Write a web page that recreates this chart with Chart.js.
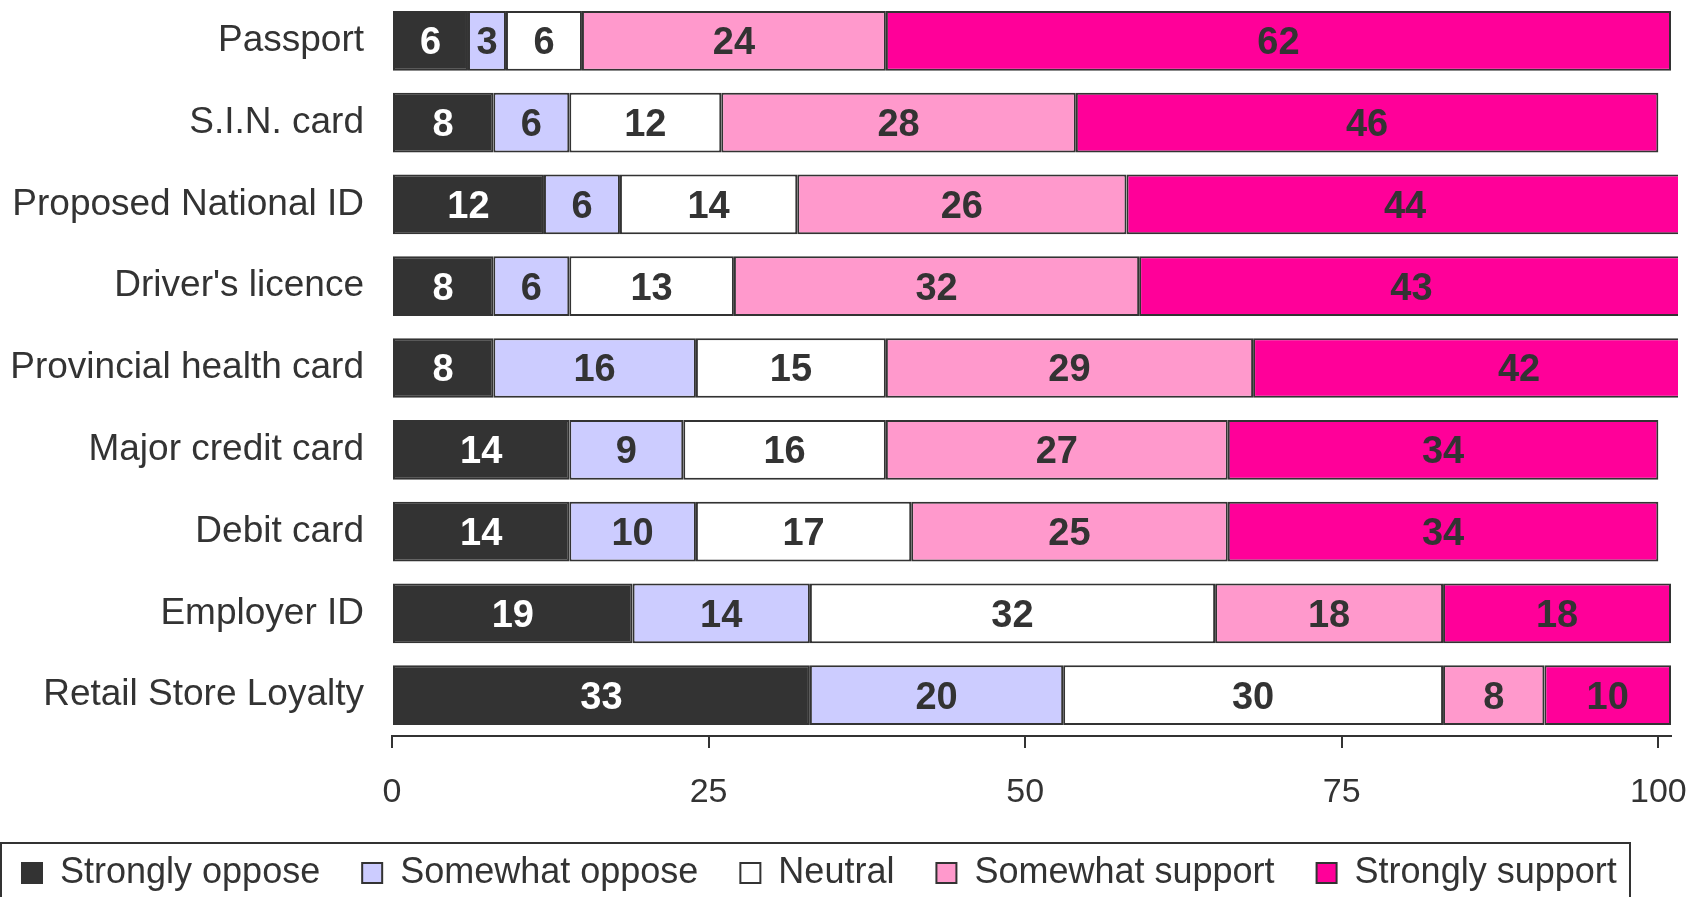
<!DOCTYPE html>
<html>
<head>
    <title>ID card support</title>
    <script src="https://cdn.jsdelivr.net/npm/chart.js"></script>
    <style>
        body {
            margin: 0;
            background: #ffffff;
            overflow: hidden;
        }
    </style>
</head>
<body>
    <canvas id="idChart" width="1701" height="897"></canvas>

    <script>
        // Card types, top to bottom
        const cards = ['Passport', 'S.I.N. card', 'Proposed National ID', "Driver's licence",
            'Provincial health card', 'Major credit card', 'Debit card', 'Employer ID', 'Retail Store Loyalty'];

        // Percent answering each way, one array per answer
        const stronglyOppose = [6, 8, 12, 8, 8, 14, 14, 19, 33];
        const somewhatOppose = [3, 6, 6, 6, 16, 9, 10, 14, 20];
        const neutral = [6, 12, 14, 13, 15, 16, 17, 32, 30];
        const somewhatSupport = [24, 28, 26, 32, 29, 27, 25, 18, 8];
        const stronglySupport = [62, 46, 44, 43, 42, 34, 34, 18, 10];

        const seriesNames = ['Strongly oppose', 'Somewhat oppose', 'Neutral', 'Somewhat support', 'Strongly support'];
        const seriesColors = ['#333333', '#ccccff', '#ffffff', '#ff99cc', '#ff0099'];

        // x axis tick labels
        const xTicks = [0, 25, 50, 75, 100];

        Chart.defaults.font.family = '"Liberation Sans", Arial, sans-serif';
        Chart.defaults.color = '#333333';

        // Writes the value in the middle of each segment
        const barLabels = {
            id: 'barLabels',
            afterDatasetsDraw(chart) {
                const ctx = chart.ctx;
                ctx.save();
                ctx.font = 'bold 38px "Liberation Sans", Arial, sans-serif';
                ctx.textAlign = 'center';
                ctx.textBaseline = 'middle';
                chart.data.datasets.forEach((ds, i) => {
                    chart.getDatasetMeta(i).data.forEach((bar, j) => {
                        ctx.fillStyle = i === 0 ? '#ffffff' : '#333333';
                        ctx.fillText(ds.data[j], (bar.x + bar.base) / 2, bar.y + 3);
                    });
                });
                ctx.restore();
            }
        };

        // Box around the legend (runs off the bottom like the original)
        const legendFrame = {
            id: 'legendFrame',
            afterDraw(chart) {
                const lg = chart.legend;
                const ctx = chart.ctx;
                ctx.save();
                ctx.strokeStyle = '#333333';
                ctx.lineWidth = 2;
                ctx.strokeRect(1, lg.top + 30, 1629, lg.height + 40);
                ctx.restore();
            }
        };

        const datasets = [stronglyOppose, somewhatOppose, neutral, somewhatSupport, stronglySupport].map((values, i) => ({
            label: seriesNames[i],
            data: values,
            backgroundColor: seriesColors[i],
            borderColor: '#333333',
            borderWidth: 2,
            borderSkipped: false,
            barPercentage: 0.73,
            categoryPercentage: 1,
            clip: { left: 10, top: 10, right: 7, bottom: 10 }
        }));

        const config = {
            type: 'bar',
            data: { labels: cards, datasets: datasets },
            options: {
                indexAxis: 'y',
                responsive: false,
                animation: false,
                layout: {
                    padding: { left: -20, right: 30, top: 0, bottom: -4 }
                },
                plugins: {
                    legend: {
                        position: 'bottom',
                        align: 'start',
                        labels: {
                            boxWidth: 20,
                            boxHeight: 20,
                            padding: 42,
                            color: '#333333',
                            font: { size: 36 }
                        }
                    },
                    tooltip: { enabled: false }
                },
                scales: {
                    x: {
                        stacked: true,
                        min: 0,
                        max: 101,
                        afterBuildTicks: (scale) => {
                            scale.ticks = xTicks.map(v => ({ value: v }));
                        },
                        afterFit: (scale) => {
                            scale.height = 77;
                            scale.paddingLeft = 0;
                            scale.paddingRight = 0;
                        },
                        grid: {
                            display: true,
                            drawOnChartArea: false,
                            drawTicks: true,
                            tickLength: 12,
                            color: '#333333',
                            lineWidth: 2
                        },
                        border: { display: true, color: '#333333', width: 2 },
                        ticks: {
                            autoSkip: false,
                            maxRotation: 0,
                            padding: 24,
                            color: '#333333',
                            font: { size: 34 }
                        }
                    },
                    y: {
                        stacked: true,
                        afterFit: (scale) => {
                            scale.width = 412;
                            scale.paddingTop = 0;
                            scale.paddingBottom = 0;
                        },
                        grid: { display: false },
                        border: { display: false },
                        ticks: {
                            padding: 20,
                            color: '#333333',
                            font: { size: 37 }
                        }
                    }
                }
            },
            plugins: [barLabels, legendFrame]
        };

        const ctx = document.getElementById('idChart').getContext('2d');
        new Chart(ctx, config);
    </script>
</body>
</html>
